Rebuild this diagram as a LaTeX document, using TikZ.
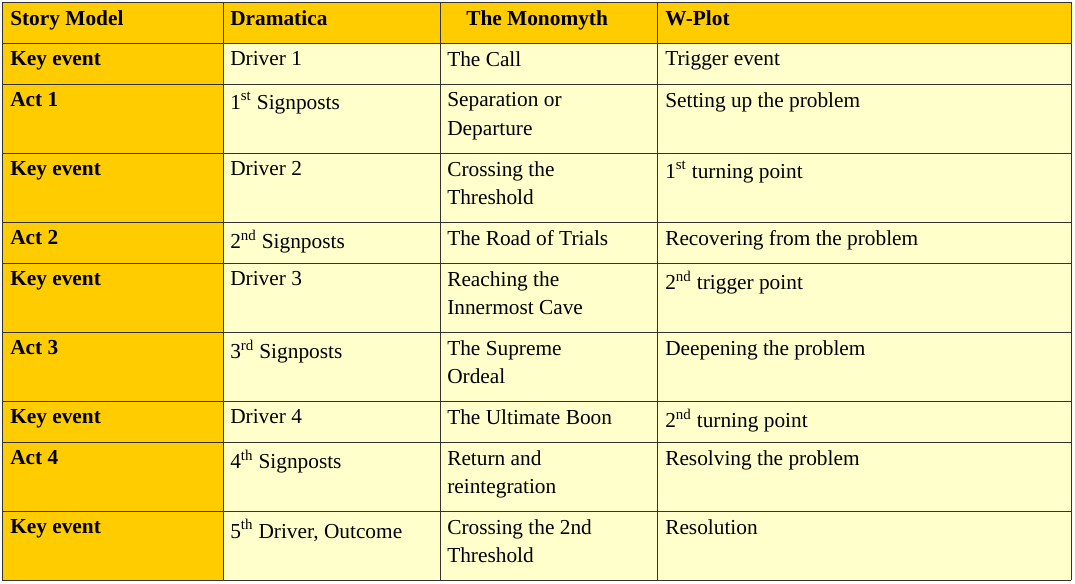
\documentclass[tikz,border=0pt]{standalone}
\usepackage{fontspec}
\setmainfont{Liberation Serif}
\usetikzlibrary{positioning}
\definecolor{gold}{HTML}{FFCC00}
\definecolor{cream}{HTML}{FFFFCC}
\tikzset{
  cell/.style={anchor=north west, inner sep=0pt, align=left, font=\fontsize{16}{21.5}\selectfont},
  head/.style={cell, font=\fontsize{16}{21.5}\selectfont\bfseries},
  grid/.style={draw=black!80, line width=0.6pt}
}
\begin{document}
\begin{tikzpicture}[x=0.75pt, y=-0.75pt]
  \useasboundingbox (0,0) rectangle (1075,583);
  % backgrounds
  \fill[cream] (2,2) rectangle (1071,580);
  \fill[gold] (2,2) rectangle (1071,43);
  \fill[gold] (2,43) rectangle (223,580);

  % grid
  \foreach \x in {2,223,440,657,1071} \draw[grid] (\x,2) -- (\x,580);
  \foreach \y in {2,43,84,153,222,263,332,401,442,511,580} \draw[grid] (2,\y) -- (1071,\y);

  % header
  \node[head] (h1) at (10,10) {Story Model};
  \node[head] (h2) at (230,10) {Dramatica};
  \node[head] (h3) at (466,10) {The Monomyth};
  \node[head] (h4) at (665,10) {W-Plot};

  % first column
  \foreach \y/\t [count=\i] in {51/Key event, 92/Act 1, 161/Key event, 230/Act 2, 271/Key event,
      340/Act 3, 409/Key event, 450/Act 4, 519/Key event}
    \node[head] (s\i) at (10,\y) {\t};

  % Dramatica
  \node[cell] (d1) at (230,51) {Driver 1};
  \node[cell] (d2) at (230,92) {1\textsuperscript{st} Signposts};
  \node[cell] (d3) at (230,161) {Driver 2};
  \node[cell] (d4) at (230,230) {2\textsuperscript{nd} Signposts};
  \node[cell] (d5) at (230,271) {Driver 3};
  \node[cell] (d6) at (230,340) {3\textsuperscript{rd} Signposts};
  \node[cell] (d7) at (230,409) {Driver 4};
  \node[cell] (d8) at (230,450) {4\textsuperscript{th} Signposts};
  \node[cell] (d9) at (230,519) {5\textsuperscript{th} Driver, Outcome};

  % Monomyth
  \node[cell] (m1) at (447,51) {The Call};
  \node[cell] (m2) at (447,92) {Separation or\\Departure};
  \node[cell] (m3) at (447,161) {Crossing the\\Threshold};
  \node[cell] (m4) at (447,230) {The Road of Trials};
  \node[cell] (m5) at (447,271) {Reaching the\\Innermost Cave};
  \node[cell] (m6) at (447,340) {The Supreme\\Ordeal};
  \node[cell] (m7) at (447,409) {The Ultimate Boon};
  \node[cell] (m8) at (447,450) {Return and\\reintegration};
  \node[cell] (m9) at (447,519) {Crossing the 2nd\\Threshold};

  % W-Plot
  \node[cell] (w1) at (665,51) {Trigger event};
  \node[cell] (w2) at (665,92) {Setting up the problem};
  \node[cell] (w3) at (665,161) {1\textsuperscript{st} turning point};
  \node[cell] (w4) at (665,230) {Recovering from the problem};
  \node[cell] (w5) at (665,271) {2\textsuperscript{nd} trigger point};
  \node[cell] (w6) at (665,340) {Deepening the problem};
  \node[cell] (w7) at (665,409) {2\textsuperscript{nd} turning point};
  \node[cell] (w8) at (665,450) {Resolving the problem};
  \node[cell] (w9) at (665,519) {Resolution};
\end{tikzpicture}
\end{document}
